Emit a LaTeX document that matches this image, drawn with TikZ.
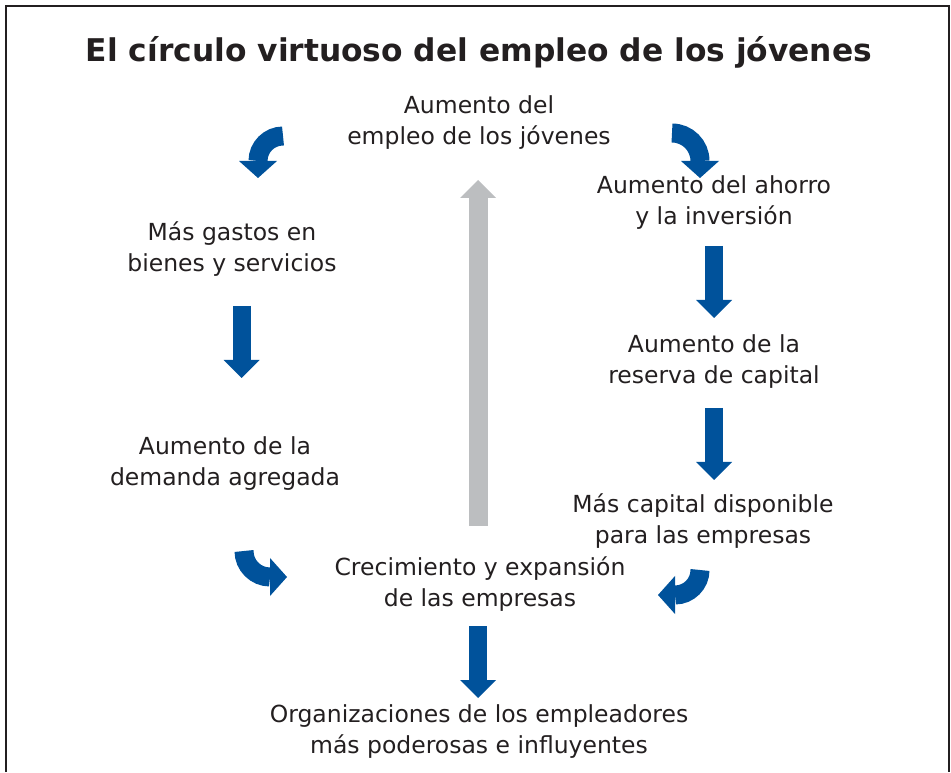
\documentclass[tikz,border=0pt]{standalone}
\usepackage{fontspec}
\setmainfont{DejaVu Sans}
\usetikzlibrary{arrows.meta}
\definecolor{flowblue}{RGB}{0,82,155}
\definecolor{flowgray}{RGB}{188,190,192}
\definecolor{ink}{RGB}{35,31,32}
\begin{document}
\begin{tikzpicture}[x=1pt,y=1pt,
  txt/.style={align=center,text=ink,inner sep=0pt,font=\fontsize{23.5}{31}\selectfont},
  fat/.style={line width=18pt,-{Triangle[width=36pt,length=18pt,line width=0pt]}},
  blue/.style={fat,draw=flowblue,color=flowblue},
  grey/.style={fat,line width=19pt,draw=flowgray,color=flowgray},
  bent/.style={blue,line width=19pt,-{Triangle[width=38pt,length=17pt,line width=0pt]}}]
\useasboundingbox (0,0) rectangle (951,772);
\draw[ink,line width=2pt] (5.5,0)--(5.5,766)--(949,766)--(949,0);
% title
\node[txt,font=\bfseries\fontsize{31.3}{36}\selectfont] (title) at (479,720) {El círculo virtuoso del empleo de los jóvenes};
% boxes of the circle
\node[txt] (empleo) at (479,649.5) {Aumento del\\empleo de los jóvenes};
\node[txt] (ahorro) at (714,569.5) {Aumento del ahorro\\y la inversión};
\node[txt] (gastos) at (232,522.5) {Más gastos en\\bienes y servicios};
\node[txt] (reserva) at (714,410.5) {Aumento de la\\reserva de capital};
\node[txt] (demanda) at (225,308) {Aumento de la\\demanda agregada};
\node[txt] (capital) at (703,251) {Más capital disponible\\para las empresas};
\node[txt] (crec) at (480,187.5) {Crecimiento y expansión\\de las empresas};
\node[txt] (organiz) at (479,40) {Organizaciones de los empleadores\\más poderosas e influyentes};
% arrow ends
\coordinate (gastosout) at (241.5,466);
\coordinate (demandain) at (241.5,394);
\coordinate (ahorroout) at (714,526);
\coordinate (reservain) at (714,454);
\coordinate (reservaout) at (714,364);
\coordinate (capitalin) at (714,292);
\coordinate (crecout) at (478,146);
\coordinate (organizin) at (478,74);
\coordinate (grayfoot) at (478,246);
\coordinate (graytip) at (478,592);
\draw[blue] (gastosout)--(demandain);
\draw[blue] (ahorroout)--(reservain);
\draw[blue] (reservaout)--(capitalin);
\draw[blue] (crecout)--(organizin);
\draw[grey] (grayfoot)--(graytip);
% curved arrows
\draw[bent] (283,636) arc (90:180:25) -- ++(0,-17);
\draw[bent] (672,639) arc (90:0:28) -- ++(0,-17);
\draw[bent] (244,221) arc (180:270:26) -- ++(17,0);
\draw[bent] (700,202) arc (0:-90:25) -- ++(-17,0);
\end{tikzpicture}
\end{document}
